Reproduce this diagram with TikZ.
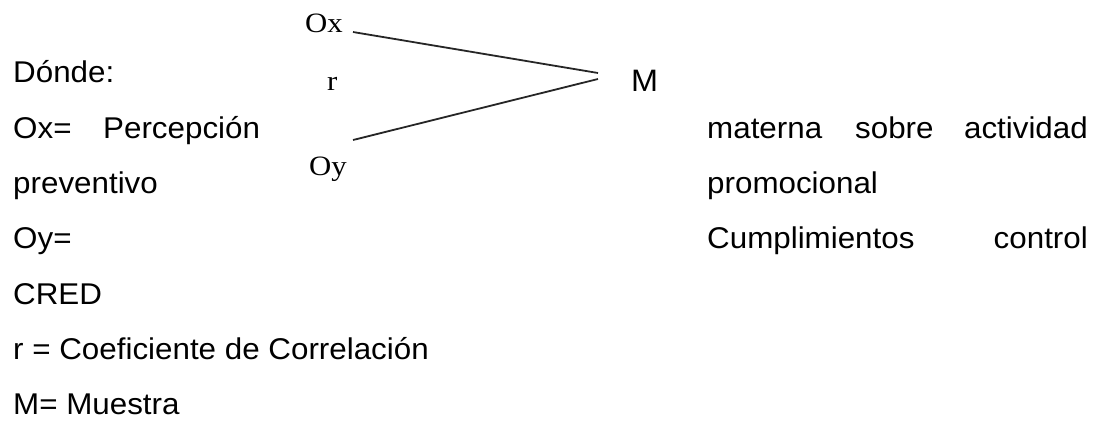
\documentclass[tikz,border=0pt]{standalone}
\usepackage{fontspec}
\setmainfont{Liberation Sans}[FakeStretch=1.045]
\newfontfamily\serifvar{Liberation Serif}[FakeStretch=1.1]
\begin{document}
\begin{tikzpicture}[x=1pt,y=-1pt,
  txt/.style={inner sep=0pt,anchor=base west,font=\fontsize{30}{36}\selectfont},
  txtr/.style={txt,anchor=base east},
  var/.style={inner sep=0pt,anchor=base west,font=\serifvar\fontsize{28}{32}\selectfont},
  link/.style={line width=1.8pt,draw=black!85}]
\useasboundingbox (0,0) rectangle (1102,421);

% explanatory text, justified lines
\node[txt] (l1)  at (13,82)  {Dónde:};
\node[txt] (l2a) at (13,138) {Ox=};
\node[txt] (l2b) at (103,138) {Percepción};
\node[txt] (l2c) at (707,138) {materna};
\node[txt] (l2d) at (855,138) {sobre};
\node[txtr] (l2e) at (1088,138) {actividad};
\node[txt] (l3a) at (13,193) {preventivo};
\node[txt] (l3b) at (707,193) {promocional};
\node[txt] (l4a) at (13,248) {Oy=};
\node[txt] (l4b) at (707,248) {Cumplimientos};
\node[txtr] (l4c) at (1088,248) {control};
\node[txt] (l5)  at (13,304) {CRED};
\node[txt] (l6)  at (13,359) {r = Coeficiente de Correlación};
\node[txt] (l7)  at (13,414) {M= Muestra};

% correlational design scheme
\node[var] (ox) at (305,32) {Ox};
\node[var] (r)  at (327,90) {r};
\node[var] (oy) at (309,175) {Oy};
\node[txt,font=\fontsize{31}{36}\selectfont] (m) at (631,91) {M};

\coordinate (oxend) at (353,32);
\coordinate (oyend) at (353,140);
\coordinate (mtop) at (598,73);
\coordinate (mbot) at (598,79);
\draw[link] (oxend) -- (mtop);
\draw[link] (oyend) -- (mbot);
\end{tikzpicture}
\end{document}
